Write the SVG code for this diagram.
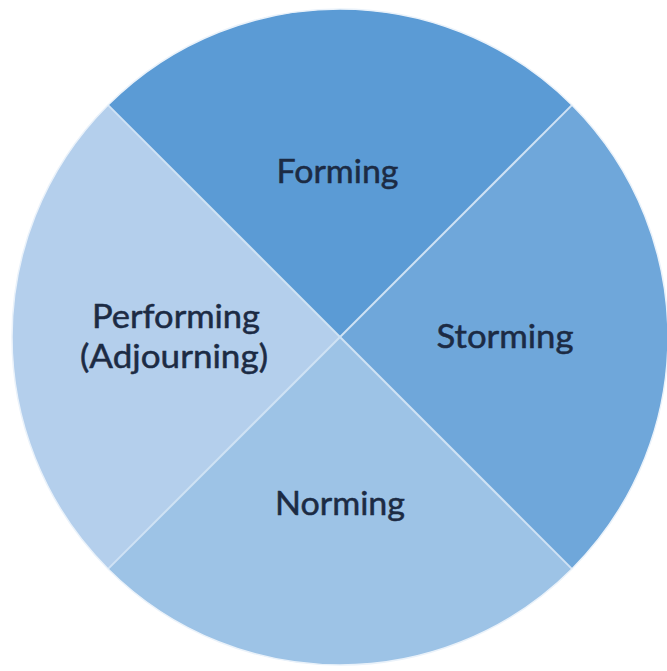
<svg xmlns="http://www.w3.org/2000/svg" width="667" height="671" viewBox="0 0 667 671">
  <style>
    .seg { stroke: none; }
    .label { font-family: Lato, "Open Sans", "Liberation Sans", sans-serif; font-size: 32px; fill: #1c2b44; stroke: #1c2b44; stroke-width: 0.5; text-anchor: middle; }
    .divider { stroke: #cfe2f4; stroke-width: 2; fill: none; }
    .rim { stroke: #eaf2fa; stroke-width: 1.5; fill: none; }
  </style>
  <rect width="667" height="671" fill="#ffffff"/>

  <!-- four quarter wedges of a circle centred at (340,337), r=328 -->
  <g id="forming">
    <path class="seg" fill="#5b9bd5" d="M340,337 L108.1,105.1 A328,328 0 0 1 571.9,105.1 Z"/>
    <text class="label" x="337.5" y="183" textLength="122" lengthAdjust="spacingAndGlyphs">Forming</text>
  </g>
  <g id="storming">
    <path class="seg" fill="#6fa7da" d="M340,337 L571.9,105.1 A328,328 0 0 1 571.9,568.9 Z"/>
    <text class="label" x="505" y="348" textLength="137" lengthAdjust="spacingAndGlyphs">Storming</text>
  </g>
  <g id="norming">
    <path class="seg" fill="#9dc3e6" d="M340,337 L571.9,568.9 A328,328 0 0 1 108.1,568.9 Z"/>
    <text class="label" x="340" y="515" textLength="130" lengthAdjust="spacingAndGlyphs">Norming</text>
  </g>
  <g id="performing">
    <path class="seg" fill="#b4cfec" d="M340,337 L108.1,568.9 A328,328 0 0 1 108.1,105.1 Z"/>
    <text class="label" x="176" y="328" textLength="168" lengthAdjust="spacingAndGlyphs">Performing</text>
    <text class="label" x="174" y="368" textLength="188" lengthAdjust="spacingAndGlyphs">(Adjourning)</text>
  </g>

  <!-- wedge boundaries -->
  <g id="dividers">
    <line class="divider" x1="108.1" y1="105.1" x2="571.9" y2="568.9"/>
    <line class="divider" x1="571.9" y1="105.1" x2="108.1" y2="568.9"/>
    <circle class="rim" cx="340" cy="337" r="328"/>
  </g>
</svg>
